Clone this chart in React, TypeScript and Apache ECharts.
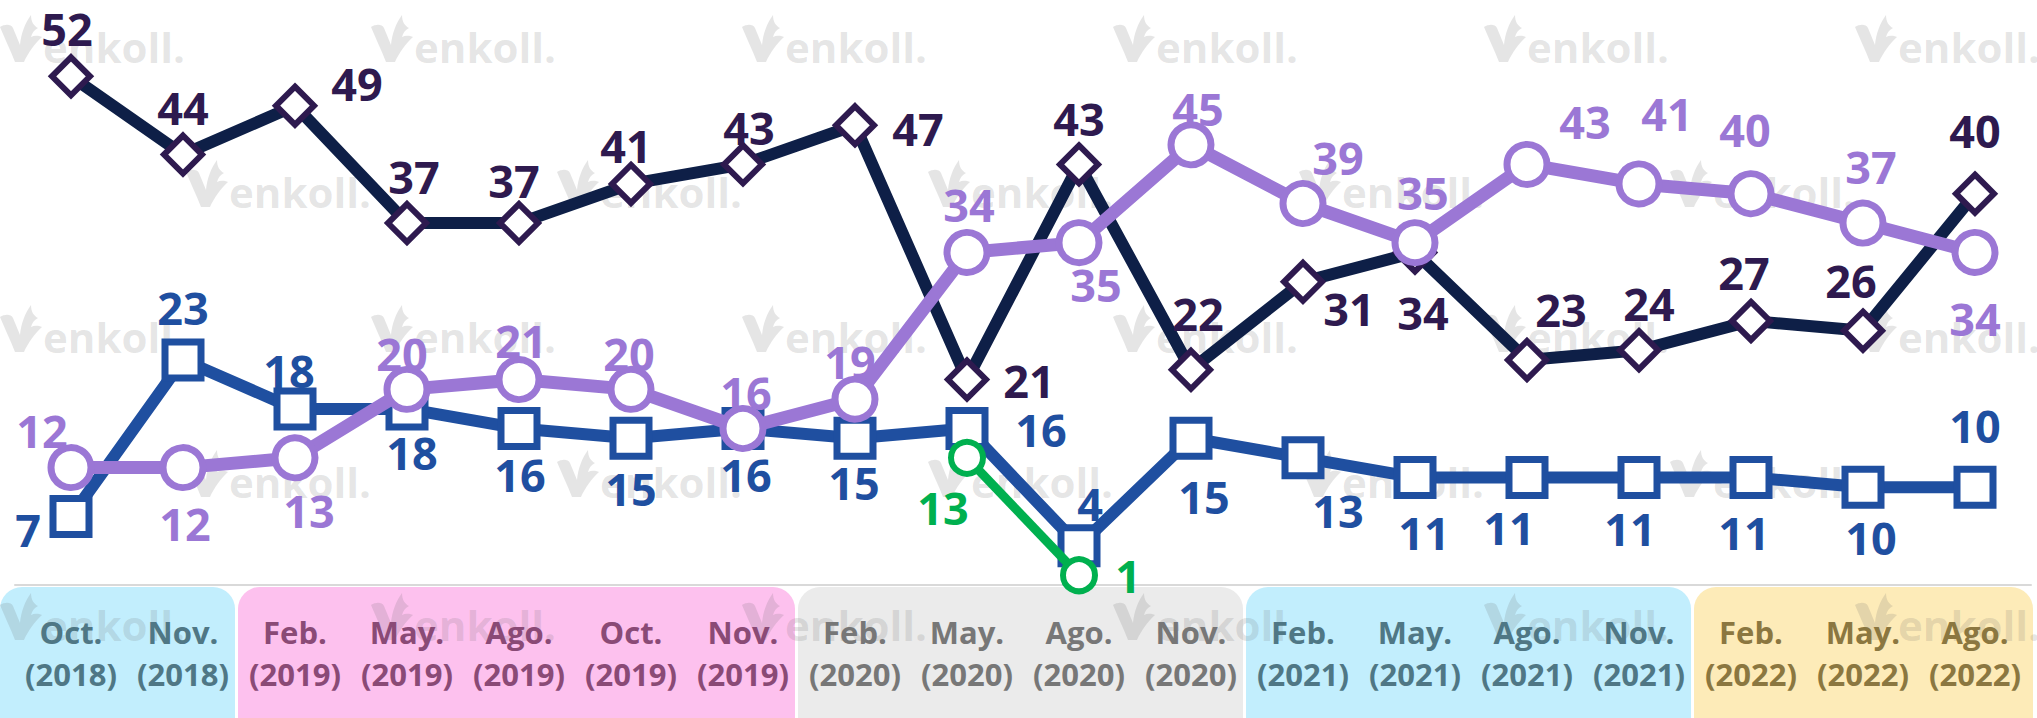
import React, { useEffect, useRef } from "react";
import * as echarts from "echarts";

const months = ["Oct.", "Nov.", "Feb.", "May.", "Ago.", "Oct.", "Nov.", "Feb.", "May.", "Ago.", "Nov.", "Feb.", "May.", "Ago.", "Nov.", "Feb.", "May.", "Ago."];
const years = ["2018", "2018", "2019", "2019", "2019", "2019", "2019", "2020", "2020", "2020", "2020", "2021", "2021", "2021", "2021", "2022", "2022", "2022"];
const categories = months.map((m, i) => `${m} (${years[i]})`);

const darkValues = [52, 44, 49, 37, 37, 41, 43, 47, 21, 43, 22, 31, 34, 23, 24, 27, 26, 40];
const blueValues = [7, 23, 18, 18, 16, 15, 16, 15, 16, 4, 15, 13, 11, 11, 11, 11, 10, 10];
const purpleValues = [12, 12, 13, 20, 21, 20, 16, 19, 34, 35, 45, 39, 35, 43, 41, 40, 37, 34];
const greenValues: (number | null)[] = [null, null, null, null, null, null, null, null, 13, 1, null, null, null, null, null, null, null, null];

// label offsets (styling)
const darkOffsets = [[-4, -48], [0, -47], [62, -22], [7, -47], [-5, -43], [-5, -38], [6, -37], [63, 3], [62, 1], [0, -46], [7, -56], [46, 27], [8, 60], [34, -51], [10, -47], [-7, -48], [-12, -50], [0, -63]];
const purpleOffsets = [[-29, -37], [2, 56], [14, 53], [-5, -36], [2, -39], [-2, -36], [3, -36], [-5, -38], [2, -48], [17, 42], [7, -36], [35, -46], [8, -50], [58, -43], [28, -70], [-6, -64], [8, -57], [0, 66]];
const blueOffsets = [[-43, 13], [0, -53], [-6, -38], [5, 44], [1, 46], [0, 50], [3, 46], [-1, 44], [74, 1], [11, -42], [13, 58], [35, 53], [9, 55], [-18, 50], [-9, 51], [-7, 55], [8, 50], [0, -62]];
const greenOffsets: Record<number, number[]> = { 8: [-24, 50], 9: [49, 0] };

const yearBand: Record<string, string> = { "2018": "#c2eefd", "2019": "#fdc1ee", "2020": "#ebebeb", "2021": "#c2eefd", "2022": "#fdebb8" };
const yearText: Record<string, string> = { "2018": "#4f7785", "2019": "#8a4a76", "2020": "#777777", "2021": "#4f7785", "2022": "#8b7740" };

const FONT = "'Open Sans', 'Noto Sans', sans-serif";

let registered = false;
function registerLogo() {
  if (registered) return;
  registered = true;
  const d = "M0 12 C5 9 11 9 13 13 L20 30 C21 19 25 8 31 0 C31 7 34 11 38 13 C34 15 32 18 31 22 C35 20 39 21 42 22 C35 28 28 38 24 47 L15 47 C10 34 4 22 0 12 Z";
  echarts.graphic.registerShape("logo", (echarts.graphic as any).extendPath(d, {}));
}

export default function App() {
  const ref = useRef<HTMLDivElement>(null);
  useEffect(() => {
    if (!ref.current) return;
    registerLogo();
    const chart = echarts.init(ref.current, undefined, { renderer: "svg" });
    const rich: Record<string, any> = {};
    Object.keys(yearText).forEach((y) => {
      rich["y" + y] = { color: yearText[y], fontFamily: FONT, fontWeight: "bold", fontSize: 31, lineHeight: 42, align: "center" };
    });
    const labelBase = { show: true, position: "inside", fontFamily: FONT, fontWeight: "bold", fontSize: 45 };
    const option: any = {
      animation: false,
      backgroundColor: "#ffffff",
      grid: { left: 15, right: 6, top: 47, bottom: 133, containLabel: false },
      xAxis: {
        type: "category",
        data: categories,
        boundaryGap: true,
        z: 3,
        axisLine: { show: true, lineStyle: { color: "#d9d9d9", width: 2 } },
        axisTick: { show: false },
        splitLine: { show: false },
        axisLabel: {
          interval: 0,
          margin: 26,
          formatter: (_v: string, i: number) => `{y${years[i]}|${months[i]}}\n{y${years[i]}|(${years[i]})}`,
          rich,
        },
      },
      yAxis: { type: "value", min: 0, max: 55, show: false, splitLine: { show: false } },
      series: [
        {
          type: "line",
          z: 4,
          data: darkValues.map((v, i) => ({ value: v, label: { offset: darkOffsets[i] } })),
          symbol: "diamond",
          symbolSize: 38,
          lineStyle: { color: "#0e1f47", width: 12 },
          itemStyle: { color: "#ffffff", borderColor: "#2e1a4f", borderWidth: 6 },
          label: { ...labelBase, color: "#2e1a4f" },
          emphasis: { disabled: true },
        },
        {
          type: "line",
          z: 5,
          data: blueValues.map((v, i) => ({ value: v, label: { offset: blueOffsets[i] } })),
          symbol: "rect",
          symbolSize: 36,
          lineStyle: { color: "#1f4fa0", width: 12 },
          itemStyle: { color: "#ffffff", borderColor: "#1f4fa0", borderWidth: 7 },
          label: { ...labelBase, color: "#1f4fa0" },
          emphasis: { disabled: true },
        },
        {
          type: "line",
          z: 6,
          data: purpleValues.map((v, i) => ({ value: v, label: { offset: purpleOffsets[i] } })),
          symbol: "circle",
          symbolSize: 40,
          lineStyle: { color: "#9b77d5", width: 13 },
          itemStyle: { color: "#ffffff", borderColor: "#9b77d5", borderWidth: 7 },
          label: { ...labelBase, color: "#9b77d5" },
          emphasis: { disabled: true },
        },
        {
          type: "line",
          z: 7,
          connectNulls: false,
          data: greenValues.map((v, i) => (v === null ? null : { value: v, label: { offset: greenOffsets[i] } })),
          symbol: "circle",
          symbolSize: 32,
          lineStyle: { color: "#00b04f", width: 9 },
          itemStyle: { color: "#ffffff", borderColor: "#00b04f", borderWidth: 6 },
          label: { ...labelBase, color: "#00b04f" },
          emphasis: { disabled: true },
        },
      ],
    };
    chart.setOption(option);

    // bands behind category labels, computed from the axis
    const centers = categories.map((_c, i) => chart.convertToPixel({ xAxisIndex: 0 }, i) as number);
    const step = centers.length > 1 ? centers[1] - centers[0] : 112;
    const graphics: any[] = [];
    const groups: { year: string; start: number; end: number }[] = [];
    years.forEach((y, i) => {
      const g = groups[groups.length - 1];
      if (g && g.year === y) g.end = i;
      else groups.push({ year: y, start: i, end: i });
    });
    const W = 2037;
    const axisY = 585;
    groups.forEach((g, gi) => {
      const left = gi === 0 ? 0 : centers[g.start] - step / 2 - 1;
      const right = gi === groups.length - 1 ? W - 4 : centers[g.end] + step / 2 - 4;
      graphics.push({
        type: "rect",
        z: 0,
        silent: true,
        shape: { x: left, y: axisY + 2, width: right - left, height: 160, r: 22 },
        style: { fill: yearBand[g.year] },
      });
    });
    // watermark
    const baselines = [62, 207, 352, 497, 640];
    baselines.forEach((b, ri) => {
      const startX = ri % 2 === 0 ? 0 : 186;
      for (let x = startX; x < W; x += 371) {
        graphics.push({
          type: "logo",
          z: 1,
          silent: true,
          x: x,
          y: b - 47,
          scaleX: 1,
          scaleY: 1,
          style: { fill: "rgba(100,100,100,0.17)" },
        });
        graphics.push({
          type: "text",
          z: 1,
          silent: true,
          x: x + 43,
          y: b - 16,
          style: { text: "enkoll.", font: `bold 42px ${FONT}`, fill: "rgba(100,100,100,0.17)", verticalAlign: "middle", align: "left" },
        });
      }
    });
    chart.setOption({ graphic: graphics });
    return () => chart.dispose();
  }, []);
  return <div ref={ref} style={{ position: "fixed", left: 0, top: 0, width: 2037, height: 718 }} />;
}
